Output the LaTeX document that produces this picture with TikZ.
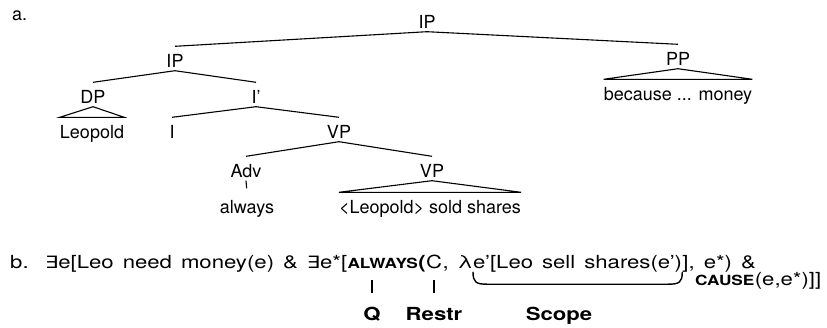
\documentclass[tikz,border=0pt]{standalone}
\usepackage{fontspec}
\setmainfont{TeX Gyre Heros}
% the formula line is set in a horizontally widened cut of the same face,
% with the wide word spaces of a justified line
\newfontfamily\formfont{TeX Gyre Heros}[FakeStretch=1.23]
\newfontfamily\symfont{DejaVu Sans}[FakeStretch=1.23]
\newcommand{\ex}{{\symfont\fontsize{17}{20}\selectfont ∃}}
\newcommand{\opname}[1]{{\formfont\bfseries\fontsize{14}{17}\selectfont #1}}
\newcommand{\formsetup}{\formfont\fontsize{18}{21}\selectfont\spaceskip=9pt\relax}
\begin{document}
\begin{tikzpicture}[x=1pt,y=-1pt,
  every node/.style={font=\fontsize{18}{21}\selectfont},
  lab/.style={anchor=base, inner xsep=0pt, inner ysep=3.5pt, text height=17pt, text depth=0pt},
  seg/.style={anchor=base west, inner sep=0pt, text height=13pt, text depth=0pt, font=\formsetup},
  tag/.style={anchor=base, inner sep=0pt, text height=13pt, text depth=0pt, font=\formsetup\bfseries},
  br/.style={line width=1.1pt},
  tick/.style={line width=1.8pt},
  brace/.style={line width=1.4pt, line cap=round}]
\useasboundingbox (0,0) rectangle (827,327);

% ---- a. the tree ----
\node[anchor=base west, inner sep=0pt] (alabel) at (12,20) {a.};
\node[lab] (ipT)  at (427,28)  {IP};
\node[lab] (ip2)  at (175,67)  {IP};
\node[lab] (pp)   at (678,65)  {PP};
\node[lab] (bm)   at (678,100) {because ... money};
\node[lab] (dp)   at (93,103)  {DP};
\node[lab] (ibar) at (256,103) {I’};
\node[lab] (leo)  at (92,138)  {Leopold};
\node[lab] (infl) at (172,138) {I};
\node[lab] (vp1)  at (339,138) {VP};
\node[lab] (adv)  at (246,177) {Adv};
\node[lab] (vp2)  at (432,177) {VP};
\node[lab] (alw)  at (247,213) {always};
\node[lab] (lss)  at (430,213) {<Leopold> sold shares};

\draw[br] (ipT.south) -- (ip2.north);
\draw[br] (ipT.south) -- (pp.north);
\draw[br] (ip2.south) -- (dp.north);
\draw[br] (ip2.south) -- (ibar.north);
\draw[br] (ibar.south) -- (infl.north);
\draw[br] (ibar.south) -- (vp1.north);
\draw[br] (vp1.south) -- (adv.north);
\draw[br] (vp1.south) -- (vp2.north);
\draw[br, shorten >=4pt] (adv.south) -- (alw.north);
\draw[br] (dp.south) -- (leo.north west) -- (leo.north east) -- cycle;
\draw[br] (vp2.south) -- (lss.north west) -- (lss.north east) -- cycle;
\draw[br] (pp.south) -- (bm.north west) -- (bm.north east) -- cycle;

% ---- b. the formula ----
\node[seg] (blabel) at (10,268) {b.};
\node[seg] (f1) at (45,268) {\ex e[Leo need money(e) \& \ex e*[};
\node[seg] (fq) at (f1.base east) {\opname{ALWAYS}};
\node[seg] (f2) at (fq.base east) {\bfseries (};
\node[seg] (fc) at (f2.base east) {C};
\node[seg] (f3) at (fc.base east) {, λ};
\node[seg] (fs) at (f3.base east) {e’[Leo sell shares(e’)};
\node[seg] (f4) at (fs.base east) {], e*) \&};
\node[seg] (fcause) at (695,285) {\opname{CAUSE}};
\node[seg] (f5) at (fcause.base east) {(e,e*)]]};

\node[tag] (tq) at (372,320) {Q};
\node[tag] (tr) at (434,320) {Restr};
\node[tag] (ts) at (559,320) {Scope};

\draw[tick, shorten <=14pt, shorten >=12pt] (tq.north) -- (tq.north |- fq.south);
\draw[tick, shorten <=14pt, shorten >=12pt] (tr.north) -- (tr.north |- fc.south);

\coordinate (bl) at ([yshift=-4pt]fs.south west);
\coordinate (br) at ([yshift=-4pt]fs.south east);
\draw[brace] (bl) .. controls ([yshift=-10pt]bl) and ([xshift=3pt,yshift=-12pt]bl) .. ([xshift=14pt,yshift=-12pt]bl)
  -- ([xshift=-14pt,yshift=-12pt]br) .. controls ([xshift=-3pt,yshift=-12pt]br) and ([yshift=-10pt]br) .. (br);
\end{tikzpicture}
\end{document}
